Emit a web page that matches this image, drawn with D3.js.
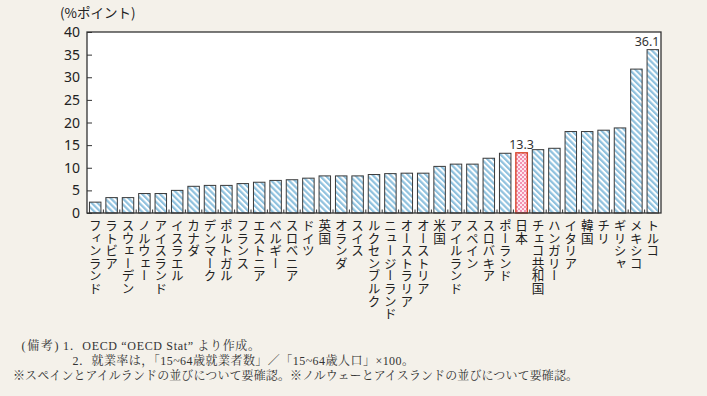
<!DOCTYPE html>
<html><head><meta charset="utf-8">
<script src="https://cdn.jsdelivr.net/npm/d3@7"></script>
<style>
html,body{margin:0;padding:0;background:#f4f1ea;}
svg{display:block;}
.cat{writing-mode:vertical-rl;text-orientation:upright;}
</style></head>
<body>
<svg id="chart" width="707" height="396"></svg>
<script>
const categories = ["フィンランド","ラトビア","スウェーデン","ノルウェー","アイスランド","イスラエル","カナダ","デンマーク","ポルトガル","フランス","エストニア","ベルギー","スロベニア","ドイツ","英国","オランダ","スイス","ルクセンブルク","ニュージーランド","オーストラリア","オーストリア","米国","アイルランド","スペイン","スロバキア","ポーランド","日本","チェコ共和国","ハンガリー","イタリア","韓国","チリ","ギリシャ","メキシコ","トルコ"];
const values = [2.4,3.4,3.4,4.3,4.3,5.0,5.9,6.1,6.1,6.5,6.8,7.2,7.35,7.7,8.2,8.2,8.2,8.5,8.7,8.8,8.8,10.3,10.8,10.8,12.1,13.2,13.3,14.0,14.3,18.0,18.0,18.3,18.8,31.8,36.1];
const yTicks = [0,5,10,15,20,25,30,35,40];
const highlight = "日本";
const valueLabels = {"日本":"13.3","トルコ":"36.1"};
const unitLabel = "(%ポイント)";
const notes = [
  {t:"(備考)", x:21.5, y:350, w:37},
  {t:"1．OECD “OECD Stat” より作成。", x:63, y:350, w:197},
  {t:"2．就業率は，「15~64歳就業者数」／「15~64歳人口」×100。", x:72.5, y:365, w:341.5},
  {t:"※スペインとアイルランドの並びについて要確認。※ノルウェーとアイスランドの並びについて要確認。", x:13, y:380, w:565}
];

const svg = d3.select("#chart");
const L=87, R=661, T=32, B=213;
const x = d3.scaleBand().domain(categories).range([L,R]).paddingInner(0.3).paddingOuter(0.15);
const y = d3.scaleLinear().domain([0,40]).range([B,T]);

const defs = svg.append("defs");
const hp = defs.append("pattern").attr("id","hatch").attr("patternUnits","userSpaceOnUse")
  .attr("width",4.2).attr("height",4.2).attr("patternTransform","rotate(-45)");
hp.append("rect").attr("width",4.2).attr("height",4.2).attr("fill","#ffffff");
hp.append("rect").attr("width",2.2).attr("height",4.2).attr("fill","#8fc1de");

const cp = defs.append("pattern").attr("id","check").attr("patternUnits","userSpaceOnUse")
  .attr("width",4).attr("height",4);
cp.append("rect").attr("width",4).attr("height",4).attr("fill","#f391b0");
cp.append("rect").attr("width",2).attr("height",2).attr("fill","#fde6ee");
cp.append("rect").attr("x",2).attr("y",2).attr("width",2).attr("height",2).attr("fill","#fde6ee");

// plot background
svg.append("rect").attr("x",L).attr("y",T).attr("width",R-L).attr("height",B-T).attr("fill","#ffffff");

// bars
svg.append("g").selectAll("rect").data(categories).join("rect")
  .attr("x",d=>x(d)).attr("width",x.bandwidth())
  .attr("y",(d,i)=>y(values[i])).attr("height",(d,i)=>y(0)-y(values[i]))
  .attr("fill",d=>d===highlight?"url(#check)":"url(#hatch)")
  .attr("stroke",d=>d===highlight?"#d8442a":"#3a3a3a")
  .attr("stroke-width",d=>d===highlight?1.4:1);

// bottom category boundary ticks (inward)
const step = x.step();
svg.append("g").selectAll("line").data(categories.slice(1)).join("line")
  .attr("x1",d=>x(d)-(step-x.bandwidth())/2).attr("x2",d=>x(d)-(step-x.bandwidth())/2)
  .attr("y1",B).attr("y2",B-3.5).attr("stroke","#333").attr("stroke-width",1);

// y axis with inward ticks
const yAxis = d3.axisRight(y).tickValues(yTicks).tickSize(5).tickFormat("");
const ga = svg.append("g").attr("transform",`translate(${L},0)`).call(yAxis);
ga.select(".domain").remove();
ga.selectAll(".tick line").attr("stroke","#333").attr("stroke-width",1);

svg.append("g").selectAll("text").data(yTicks).join("text")
  .attr("x",80).attr("y",d=>y(d)).attr("dy","0.36em").attr("text-anchor","end")
  .attr("font-family","'Noto Sans',sans-serif").attr("font-size",14)
  .attr("fill","#222").text(d=>d);

// frame
svg.append("rect").attr("x",L).attr("y",T).attr("width",R-L).attr("height",B-T)
  .attr("fill","none").attr("stroke","#333").attr("stroke-width",1.3);

// unit label
svg.append("text").attr("x",60).attr("y",18).attr("font-family","'Noto Sans CJK JP',sans-serif")
  .attr("font-size",13.5).attr("fill","#222").text(unitLabel);

// value labels
categories.forEach((c,i)=>{
  if(!valueLabels[c]) return;
  const last = i===categories.length-1;
  svg.append("text")
    .attr("x", last ? x(c)+x.bandwidth()+1 : x(c)+x.bandwidth()/2)
    .attr("y", y(values[i])-4)
    .attr("text-anchor", last?"end":"middle")
    .attr("font-family","'Noto Sans',sans-serif").attr("font-size",12.5)
    .attr("fill","#333").text(valueLabels[c]);
});

// category labels (vertical)
svg.append("g").selectAll("text").data(categories).join("text")
  .attr("class","cat")
  .attr("x",d=>x(d)+x.bandwidth()/2).attr("y",219)
  .attr("font-family","'Noto Sans CJK JP',sans-serif").attr("font-size",12.6)
  .attr("fill","#222").text(d=>d);

// notes
notes.forEach(n=>{
  const t = svg.append("text").attr("x",n.x).attr("y",n.y)
    .attr("font-family","'Liberation Serif','Noto Serif CJK JP','Noto Sans CJK JP',serif")
    .attr("font-size",12).attr("fill","#333").text(n.t);
  if(n.w) t.attr("textLength",n.w).attr("lengthAdjust","spacing");
});
</script>
</body></html>
